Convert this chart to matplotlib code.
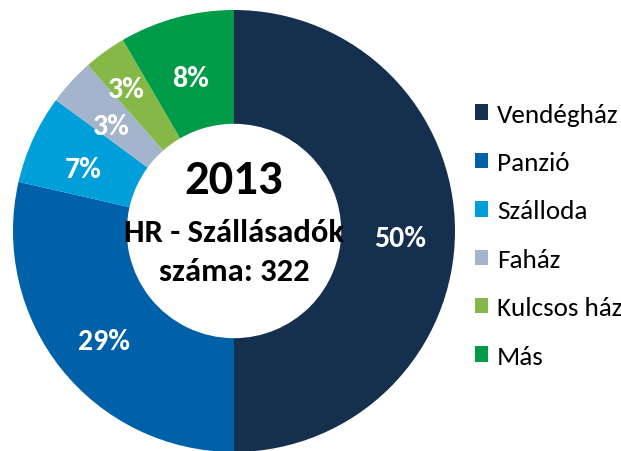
import matplotlib.pyplot as plt

# --- Adatok ---
kategoriak = ['Vendégház', 'Panzió', 'Szálloda', 'Faház', 'Kulcsos ház', 'Más']
darab = [161, 92, 21, 11, 10, 27]
szinek = ['#15304f', '#0060a8', '#009fd9', '#a3b4cc', '#86b848', '#009b48']
cim_ev = '2013'
cim_szoveg = 'HR - Szállásadók\nszáma: 322'

plt.rcParams['font.family'] = ['Carlito', 'DejaVu Sans']

fig = plt.figure(figsize=(6.21, 4.52), dpi=100)
ax = fig.add_axes([13 / 621, -1 / 452, 442 / 621, 442 / 452])

wedges, texts, autotexts = ax.pie(
    darab, colors=szinek, startangle=90, counterclock=False,
    autopct=lambda p: f'{p:.0f}%', pctdistance=0.75,
    wedgeprops=dict(width=0.515, linewidth=0),
    textprops=dict(color='white', fontsize=21.5, fontweight='bold'))
ax.set_xlim(-1, 1)
ax.set_ylim(-1, 1)

# címkék kicsit lejjebb, a kis szelet címkéje kijjebb (mint az eredetin)
for i, t in enumerate(autotexts):
    x, y = t.get_position()
    if kategoriak[i] == 'Kulcsos ház':
        x, y = x * 0.83 / 0.75, y * 0.83 / 0.75
    t.set_position((x, y - 0.03))

# --- Szöveg középen ---
ax.text(0, 0.23, cim_ev, ha='center', va='center', fontsize=35, fontweight='bold')
ax.text(0, -0.093, cim_szoveg, ha='center', va='center', fontsize=23.5,
        fontweight='bold', linespacing=1.5)

# --- Jelmagyarázat ---
fig.legend(wedges, kategoriak, loc='upper left', bbox_to_anchor=(0.7648, 0.771),
           frameon=False, fontsize=19.5, handlelength=0.5, handleheight=0.5,
           handletextpad=0.32, labelspacing=0.94, borderaxespad=0, borderpad=0)

fig.savefig('out.png', dpi=100)
